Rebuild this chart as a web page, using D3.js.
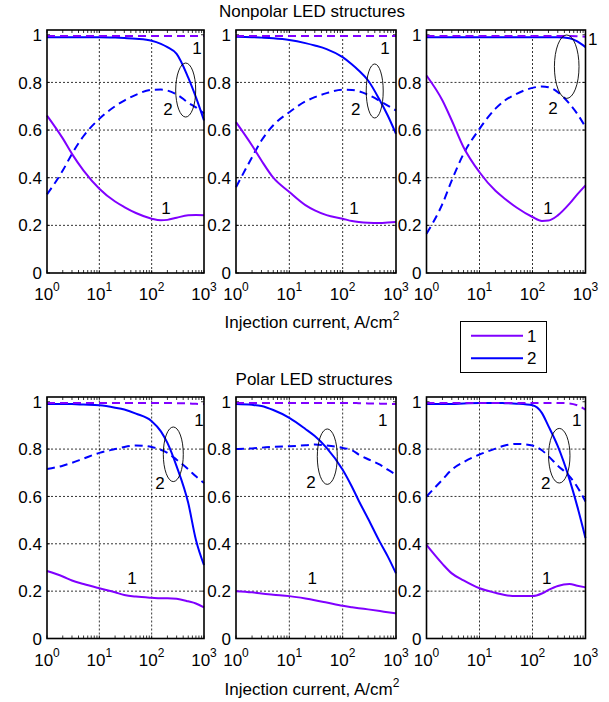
<!DOCTYPE html>
<html><head><meta charset="utf-8">
<script src="https://cdn.jsdelivr.net/npm/d3@7"></script>
<style>
html,body{margin:0;padding:0;background:#fff;}
svg{display:block;font-family:"Liberation Sans",Arial,Helvetica,sans-serif;}
</style></head>
<body>
<svg id="chart" width="609" height="702"></svg>
<script>
// ---------- DATA ----------
const current = [1, 2, 3, 5, 10, 20, 30, 50, 100, 150, 200, 300, 500, 700, 1000];
const xTickValues = [1, 10, 100, 1000];
const xTickExponents = ["0", "1", "2", "3"];
const yTickValues = [0, 0.2, 0.4, 0.6, 0.8, 1];
const rowTitles = ["Nonpolar LED structures", "Polar LED structures"];
const axisLabel = "Injection current, A/cm";
const axisLabelSup = "2";
const legendLabels = ["1", "2"];

// Nonpolar, panel 1
const np1Solid1  = [0.661,0.565,0.500,0.430,0.354,0.300,0.277,0.252,0.228,0.221,0.223,0.232,0.242,0.243,0.242];
const np1Dashed1 = [0.995,0.995,0.995,0.995,0.995,0.995,0.995,0.995,0.995,0.995,0.995,0.995,0.995,0.995,0.995];
const np1Solid2  = [0.990,0.990,0.990,0.990,0.990,0.988,0.986,0.983,0.975,0.962,0.948,0.920,0.820,0.738,0.640];
const np1Dashed2 = [0.330,0.430,0.500,0.575,0.647,0.700,0.724,0.748,0.769,0.770,0.766,0.750,0.715,0.695,0.670];
// Nonpolar, panel 2
const np2Solid1  = [0.633,0.535,0.472,0.400,0.340,0.285,0.263,0.243,0.228,0.218,0.214,0.211,0.210,0.212,0.214];
const np2Dashed1 = [0.995,0.995,0.995,0.995,0.995,0.995,0.995,0.995,0.995,0.995,0.995,0.995,0.995,0.995,0.995];
const np2Solid2  = [0.992,0.990,0.988,0.985,0.978,0.965,0.955,0.940,0.906,0.875,0.850,0.808,0.724,0.661,0.584];
const np2Dashed2 = [0.360,0.486,0.556,0.620,0.675,0.720,0.738,0.755,0.769,0.768,0.763,0.748,0.722,0.703,0.682];
// Nonpolar, panel 3
const np3Solid1  = [0.829,0.724,0.640,0.528,0.423,0.345,0.312,0.275,0.235,0.218,0.220,0.242,0.291,0.330,0.368];
const np3Dashed1 = [0.995,0.995,0.995,0.995,0.995,0.995,0.995,0.995,0.995,0.995,0.995,0.995,0.995,0.994,0.992];
const np3Solid2  = [0.990,0.990,0.990,0.990,0.990,0.990,0.990,0.990,0.990,0.990,0.990,0.990,0.985,0.972,0.948];
const np3Dashed2 = [0.165,0.290,0.389,0.500,0.605,0.690,0.724,0.752,0.777,0.783,0.780,0.759,0.710,0.668,0.612];
// Polar, panel 1
const p1Solid1  = [0.285,0.262,0.245,0.230,0.212,0.195,0.184,0.177,0.172,0.170,0.170,0.168,0.157,0.148,0.131];
const p1Dashed1 = [0.995,0.995,0.995,0.995,0.995,0.995,0.995,0.995,0.995,0.995,0.995,0.994,0.993,0.991,0.990];
const p1Solid2  = [0.990,0.990,0.990,0.988,0.985,0.975,0.967,0.950,0.918,0.875,0.826,0.727,0.572,0.417,0.310];
const p1Dashed2 = [0.716,0.730,0.742,0.760,0.784,0.800,0.809,0.815,0.809,0.797,0.784,0.755,0.715,0.685,0.657];
// Polar, panel 2
const p2Solid1  = [0.200,0.195,0.190,0.185,0.179,0.169,0.162,0.152,0.138,0.132,0.128,0.123,0.116,0.111,0.106];
const p2Dashed1 = [0.995,0.995,0.995,0.995,0.995,0.995,0.995,0.995,0.995,0.995,0.994,0.993,0.992,0.991,0.990];
const p2Solid2  = [0.990,0.987,0.982,0.965,0.932,0.885,0.855,0.805,0.713,0.640,0.582,0.506,0.407,0.347,0.275];
const p2Dashed2 = [0.800,0.803,0.806,0.810,0.812,0.816,0.819,0.815,0.805,0.795,0.777,0.757,0.734,0.713,0.692];
// Polar, panel 3
const p3Solid1  = [0.395,0.315,0.275,0.245,0.212,0.193,0.184,0.179,0.179,0.190,0.205,0.222,0.230,0.223,0.216];
const p3Dashed1 = [0.995,0.995,0.995,0.995,0.995,0.995,0.995,0.995,0.995,0.995,0.995,0.995,0.993,0.985,0.967];
const p3Solid2  = [0.990,0.990,0.990,0.993,0.995,0.995,0.994,0.992,0.985,0.953,0.897,0.812,0.671,0.558,0.424];
const p3Dashed2 = [0.600,0.671,0.713,0.745,0.777,0.802,0.815,0.822,0.815,0.795,0.770,0.730,0.685,0.640,0.579];

// Annotations per panel, in data coordinates: [current, value]
const annTop1    = [[735,0.945],[622,0.945],[1368,0.982],[803,0.923],[563,0.923],[682,0.923]];
const annLabel2  = [[205,0.688],[176,0.688],[244,0.693],[144,0.657],[25.5,0.662],[177,0.658]];
const annEllipse = [[447,0.768],[399,0.764],[442,0.866],[259,0.778],[51.5,0.768],[320,0.772]];
const annLow1    = [[188,0.273],[163,0.273],[196,0.273],[42,0.255],[27,0.255],[185,0.255]];
const ellipseRadii = [[10,27],[8.5,27],[12.3,31.7],[10,27.3],[10,27.7],[10.7,27.3]];

// ---------- LAYOUT ----------
const colors = {c1: "#8000ff", c2: "#0000ff"};
const panelX = [[47,204],[236,396],[426.5,585.5]];
const rowY = [[273,30],[638.5,397]];
const panels = [
  [np1Solid1,np1Dashed1,np1Solid2,np1Dashed2],
  [np2Solid1,np2Dashed1,np2Solid2,np2Dashed2],
  [np3Solid1,np3Dashed1,np3Solid2,np3Dashed2],
  [p1Solid1,p1Dashed1,p1Solid2,p1Dashed2],
  [p2Solid1,p2Dashed1,p2Solid2,p2Dashed2],
  [p3Solid1,p3Dashed1,p3Solid2,p3Dashed2]
];

const svg = d3.select("#chart");
const FS = 17;

panels.forEach((series, i) => {
  const row = Math.floor(i / 3), col = i % 3;
  const x = d3.scaleLog().domain([1, 1000]).range(panelX[col]);
  const y = d3.scaleLinear().domain([0, 1.02]).range(rowY[row]);
  const [x0, x1] = panelX[col], [yb, yt] = rowY[row];
  const g = svg.append("g");

  // grid
  g.selectAll(".gx").data([10, 100]).enter().append("line")
    .attr("x1", d => x(d)).attr("x2", d => x(d)).attr("y1", yb).attr("y2", yt)
    .attr("stroke", "#000").attr("stroke-width", 0.8).attr("stroke-dasharray", "2,2");
  g.selectAll(".gy").data([0.2, 0.4, 0.6, 0.8]).enter().append("line")
    .attr("x1", x0).attr("x2", x1).attr("y1", d => y(d)).attr("y2", d => y(d))
    .attr("stroke", "#000").attr("stroke-width", 0.8).attr("stroke-dasharray", "2,2");

  // minor & major ticks inside
  const minor = [];
  [1, 10, 100].forEach(dec => { for (let k = 2; k <= 9; k++) minor.push(dec * k); });
  const xt = minor.concat(xTickValues);
  g.selectAll(".tb").data(xt).enter().append("line")
    .attr("x1", d => x(d)).attr("x2", d => x(d)).attr("y1", yb).attr("y2", yb - 3)
    .attr("stroke", "#000").attr("stroke-width", 0.8);
  g.selectAll(".tt").data(xt).enter().append("line")
    .attr("x1", d => x(d)).attr("x2", d => x(d)).attr("y1", yt).attr("y2", yt + 3)
    .attr("stroke", "#000").attr("stroke-width", 0.8);
  g.selectAll(".tl").data(yTickValues).enter().append("line")
    .attr("x1", x0).attr("x2", x0 + 3).attr("y1", d => y(d)).attr("y2", d => y(d))
    .attr("stroke", "#000").attr("stroke-width", 0.8);
  g.selectAll(".tr").data(yTickValues).enter().append("line")
    .attr("x1", x1).attr("x2", x1 - 3).attr("y1", d => y(d)).attr("y2", d => y(d))
    .attr("stroke", "#000").attr("stroke-width", 0.8);

  // y tick labels
  g.selectAll(".yl").data(yTickValues).enter().append("text")
    .attr("x", x0 - 5).attr("y", d => y(d) + FS * 0.36)
    .attr("text-anchor", "end").attr("font-size", FS)
    .text(d => d === 0 ? "0" : d === 1 ? "1" : d.toFixed(1));

  // x tick labels with exponents
  xTickValues.forEach((v, k) => {
    const t = g.append("text").attr("x", x(v)).attr("y", yb + 27)
      .attr("text-anchor", "middle").attr("font-size", FS);
    t.append("tspan").text("10");
    t.append("tspan").attr("font-size", 12).attr("dy", -9).text(xTickExponents[k]);
  });

  // lines
  const line = d3.line().x((d, k) => x(current[k])).y(d => y(d)).curve(d3.curveMonotoneX);
  const styles = [
    {c: colors.c1, dash: null}, {c: colors.c1, dash: "8,5"},
    {c: colors.c2, dash: null}, {c: colors.c2, dash: "8,5"}
  ];
  // draw dashed purple last-ish so it shows on top of blue solid near 1
  [3, 2, 0, 1].forEach(si => {
    g.append("path").datum(series[si]).attr("d", line)
      .attr("fill", "none").attr("stroke", styles[si].c).attr("stroke-width", 2)
      .attr("stroke-dasharray", styles[si].dash);
  });

  // frame
  g.append("rect").attr("x", x0).attr("y", yt).attr("width", x1 - x0).attr("height", yb - yt)
    .attr("fill", "none").attr("stroke", "#000").attr("stroke-width", 1.6);

  // annotations
  const ann = (p, txt) => g.append("text").attr("x", x(p[0])).attr("y", y(p[1]) + FS * 0.36)
    .attr("text-anchor", "middle").attr("font-size", FS).text(txt);
  ann(annTop1[i], "1");
  ann(annLabel2[i], "2");
  ann(annLow1[i], "1");
  g.append("ellipse").attr("cx", x(annEllipse[i][0])).attr("cy", y(annEllipse[i][1]))
    .attr("rx", ellipseRadii[i][0]).attr("ry", ellipseRadii[i][1])
    .attr("fill", "none").attr("stroke", "#000").attr("stroke-width", 0.9);
});

// titles
svg.append("text").attr("x", 312).attr("y", 17).attr("text-anchor", "middle")
  .attr("font-size", FS).text(rowTitles[0]);
svg.append("text").attr("x", 314).attr("y", 385).attr("text-anchor", "middle")
  .attr("font-size", FS).text(rowTitles[1]);

// axis labels
[328, 695].forEach(yy => {
  const t = svg.append("text").attr("x", 312).attr("y", yy).attr("text-anchor", "middle").attr("font-size", FS);
  t.append("tspan").text(axisLabel);
  t.append("tspan").attr("font-size", 12).attr("dy", -8).text(axisLabelSup);
});

// legend
const lg = svg.append("g");
lg.append("rect").attr("x", 460.5).attr("y", 321.5).attr("width", 86).attr("height", 51)
  .attr("fill", "#fff").attr("stroke", "#000").attr("stroke-width", 1);
[colors.c1, colors.c2].forEach((c, k) => {
  const yy = 335.7 + k * 22.6;
  lg.append("line").attr("x1", 471).attr("x2", 523).attr("y1", yy).attr("y2", yy)
    .attr("stroke", c).attr("stroke-width", 2);
  lg.append("text").attr("x", 527).attr("y", yy + 6).attr("font-size", FS).text(legendLabels[k]);
});
</script>
</body></html>
